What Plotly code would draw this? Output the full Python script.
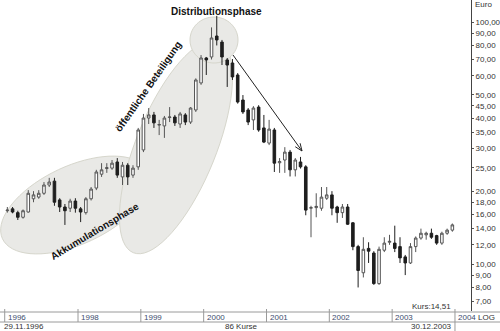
import math
import plotly.graph_objects as go

# ---------------- data (monthly candles, Nov 1996 .. Dec 2003, 86 Kurse) ----------------
opens = [16.6, 16.9, 16.3, 15.6, 16.4, 18.6, 18.9, 19.6, 21.2, 22.0,
         18.4, 17.2, 17.0, 18.2, 16.9, 16.3, 18.6, 20.6, 23.5, 24.8,
         24.9, 26.4, 22.9, 25.6, 23.3, 25.2, 29.6, 40.1, 41.3, 37.5,
         37.2, 40.3, 40.5, 37.9, 41.3, 38.6, 43.3, 56.0, 71.0, 71.7,
         87.5, 82.6, 69.7, 67.7, 60.4, 47.6, 43.3, 39.4, 44.5, 36.5,
         31.6, 35.8, 26.2, 26.9, 29.0, 24.5, 26.4, 25.2, 17.0, 17.1,
         17.0, 18.7, 19.3, 17.2, 16.3, 17.2, 14.8, 11.8, 9.2, 11.6,
         11.1, 8.3, 11.4, 12.3, 12.2, 11.8, 10.7, 10.1, 11.8, 12.8,
         13.2, 13.4, 13.1, 12.2, 13.4, 13.8]
highs = [17.2, 17.2, 16.6, 16.8, 20.2, 20.0, 20.2, 21.8, 22.7, 22.7,
         18.7, 17.7, 18.6, 18.7, 17.2, 18.9, 20.8, 24.5, 26.1, 26.1,
         26.9, 27.4, 26.4, 26.1, 25.6, 36.5, 41.7, 44.1, 42.5, 39.4,
         40.9, 44.5, 41.3, 42.5, 42.0, 44.5, 58.5, 73.0, 71.7, 95.0,
         106.0, 84.3, 71.0, 70.3, 61.5, 49.9, 44.1, 44.9, 45.3, 41.3,
         39.4, 36.5, 27.4, 30.4, 29.6, 27.4, 27.7, 25.6, 17.4, 19.6,
         20.8, 20.8, 20.0, 17.4, 17.7, 17.7, 14.9, 12.0, 12.9, 12.3,
         11.3, 11.8, 12.9, 13.2, 14.4, 12.9, 10.9, 12.2, 13.0, 14.0,
         13.6, 14.0, 13.2, 13.6, 14.0, 14.7]
lows = [16.3, 16.2, 15.2, 15.4, 16.3, 18.0, 18.6, 19.3, 20.8, 17.4,
        16.4, 14.5, 16.4, 16.3, 14.9, 16.0, 18.3, 20.2, 22.9, 23.8,
        24.5, 22.7, 21.2, 21.2, 22.7, 24.5, 29.0, 37.9, 36.5, 34.1,
        33.2, 38.6, 37.2, 36.5, 37.5, 37.9, 42.5, 55.0, 60.4, 70.0,
        80.0, 66.4, 53.9, 57.6, 46.0, 41.7, 37.5, 35.8, 35.2, 31.6,
        31.0, 24.0, 23.8, 23.8, 23.0, 23.0, 24.8, 15.9, 12.9, 15.6,
        16.6, 18.4, 15.9, 14.8, 15.5, 14.5, 11.4, 8.0, 8.8, 10.1,
        8.2, 8.2, 11.2, 12.0, 11.2, 10.1, 9.0, 10.0, 11.2, 12.6,
        12.6, 12.7, 12.0, 12.0, 13.2, 13.6]
closes = [16.7, 16.4, 15.6, 16.6, 19.6, 19.3, 19.6, 21.2, 21.8, 18.0,
          17.2, 16.6, 18.2, 17.0, 16.4, 18.6, 20.4, 24.0, 24.5, 25.0,
          26.1, 23.3, 25.6, 22.9, 24.9, 35.8, 40.1, 41.3, 38.3, 37.7,
          40.1, 40.5, 38.3, 41.7, 38.6, 44.1, 57.6, 71.0, 69.7, 85.9,
          84.3, 71.7, 66.4, 59.3, 46.7, 42.5, 38.6, 44.1, 35.8, 31.9,
          36.1, 26.1, 26.5, 29.0, 24.5, 26.9, 25.2, 16.7, 17.1, 17.3,
          18.9, 19.3, 17.0, 16.3, 17.2, 14.6, 11.8, 9.4, 11.5, 11.3,
          8.3, 11.5, 12.2, 12.4, 11.6, 10.6, 10.1, 11.8, 12.8, 13.4,
          13.4, 12.9, 12.2, 13.4, 13.8, 14.51]
months = list(range(len(closes)))          # 0 = Nov 1996 ... 85 = Dec 2003

year_labels = ["1996", "1998", "1999", "2000", "2001", "2002", "2003", "2004"]
year_pos = [-0.5, 13.5, 25.5, 37.5, 49.5, 61.5, 73.5, 85.5]

ytick_vals = [7, 8, 9, 10, 12, 14, 16, 18, 20, 25, 30, 35, 40, 45, 50, 60, 70, 80, 90, 100]
ytick_text = [f"{v:.2f}".replace(".", ",") for v in ytick_vals]

# ---------------- geometry helpers (pixel -> paper) ----------------
W, H = 500, 331
ML, MR, MT, MB = 0, 29, 0, 20
PW, PH = W - ML - MR, H - MT - MB


def px(x):
    return (x - ML) / PW


def py(y):
    return (H - MB - y) / PH


def ellipse_path(cx, cy, a, b, ang_deg, n=72):
    t = math.radians(ang_deg)
    pts = []
    for k in range(n):
        th = 2 * math.pi * k / n
        ex, ey = a * math.cos(th), b * math.sin(th)
        x = cx + ex * math.cos(t) + ey * math.sin(t)
        y = cy - ex * math.sin(t) + ey * math.cos(t)
        pts.append(f"{px(x):.5f},{py(y):.5f}")
    return "M " + " L ".join(pts) + " Z"


fig = go.Figure()
fig.add_trace(go.Candlestick(
    x=months, open=opens, high=highs, low=lows, close=closes,
    increasing=dict(line=dict(color="#555555", width=1), fillcolor="#ffffff"),
    decreasing=dict(line=dict(color="#1e1e1e", width=1), fillcolor="#1e1e1e"),
    whiskerwidth=0, showlegend=False, hoverinfo="skip"))

shapes = []
ell_style = dict(xref="paper", yref="paper", type="path", layer="below",
                 fillcolor="#e9e9e6", line=dict(color="#d6d6cc", width=1))
shapes.append(dict(path=ellipse_path(75, 205, 80, 39, 25), **ell_style))
shapes.append(dict(path=ellipse_path(176, 147, 114, 40, 68), **ell_style))
shapes.append(dict(path=ellipse_path(214, 40, 24, 23, 0), **ell_style))

# arrow
x0, y0, x1, y1 = 233, 55, 302, 151
shapes.append(dict(type="line", xref="paper", yref="paper", x0=px(x0), y0=py(y0),
                   x1=px(x1), y1=py(y1), line=dict(color="#222", width=1)))
L = math.hypot(x1 - x0, y1 - y0)
ux, uy = (x1 - x0) / L, (y1 - y0) / L
for s in (1, -1):
    an = math.radians(22 * s)
    rx = ux * math.cos(an) - uy * math.sin(an)
    ry = ux * math.sin(an) + uy * math.cos(an)
    shapes.append(dict(type="line", xref="paper", yref="paper", x0=px(x1), y0=py(y1),
                       x1=px(x1 - 8 * rx), y1=py(y1 - 8 * ry),
                       line=dict(color="#222", width=1)))

# bottom year bar
gray = "#9a9a9a"
for yy in (312, 322):
    shapes.append(dict(type="line", xref="paper", yref="paper", x0=px(0), x1=px(500),
                       y0=py(yy), y1=py(yy), line=dict(color=gray, width=1)))
for p in year_pos:
    shapes.append(dict(type="line", xref="x", yref="paper", x0=p, x1=p,
                       y0=py(309), y1=py(331 if p == year_pos[-1] else 322),
                       line=dict(color=gray, width=1)))

ann = []
small = dict(family="Liberation Sans, Arial", size=8, color="#333")
for lab, p in zip(year_labels, year_pos):
    ann.append(dict(x=p, y=py(317), xref="x", yref="paper", text=lab, showarrow=False,
                    xanchor="left", yanchor="middle", xshift=1,
                    font=dict(family="Liberation Sans, Arial", size=8, color="#3d4d6e")))
ann.append(dict(x=px(2), y=py(326), xref="paper", yref="paper", text="29.11.1996",
                showarrow=False, xanchor="left", yanchor="middle", font=small))
ann.append(dict(x=px(241), y=py(326), xref="paper", yref="paper", text="86 Kurse",
                showarrow=False, xanchor="center", yanchor="middle", font=small))
ann.append(dict(x=px(454), y=py(326), xref="paper", yref="paper", text="30.12.2003",
                showarrow=False, xanchor="right", yanchor="middle", font=small))
ann.append(dict(x=px(453), y=py(306), xref="paper", yref="paper", text="Kurs:14,51",
                showarrow=False, xanchor="right", yanchor="middle", font=small))
ann.append(dict(x=px(486), y=py(317), xref="paper", yref="paper", text="LOG",
                showarrow=False, xanchor="center", yanchor="middle", font=small))
ann.append(dict(x=px(473), y=py(5), xref="paper", yref="paper", text="Euro",
                showarrow=False, xanchor="left", yanchor="middle", font=small))

bold = dict(family="Liberation Sans, Arial", size=10, color="#111")
ann.append(dict(x=px(216), y=py(12), xref="paper", yref="paper", text="<b>Distributionsphase</b>",
                showarrow=False, xanchor="center", yanchor="middle", font=bold))
ann.append(dict(x=px(148), y=py(86), xref="paper", yref="paper", text="<b>öffentliche Beteiligung</b>",
                showarrow=False, xanchor="center", yanchor="middle", textangle=-55, font=bold))
ann.append(dict(x=px(94), y=py(231), xref="paper", yref="paper", text="<b>Akkumulationsphase</b>",
                showarrow=False, xanchor="center", yanchor="middle", textangle=-31, font=bold))

fig.update_layout(
    width=W, height=H, margin=dict(l=ML, r=MR, t=MT, b=MB),
    paper_bgcolor="white", plot_bgcolor="white",
    shapes=shapes, annotations=ann,
    xaxis=dict(range=[-1.4, 88.56], showticklabels=False, showgrid=False, zeroline=False,
               showline=False, ticks="", rangeslider=dict(visible=False), fixedrange=True),
    yaxis=dict(type="log", side="right", range=[0.8058, 2.0909], tickvals=ytick_vals,
               ticktext=ytick_text, showgrid=False, zeroline=False, showline=True,
               linecolor="#444", linewidth=1, ticks="outside", ticklen=2, tickcolor="#555",
               tickfont=dict(family="Liberation Sans, Arial", size=8, color="#333"),
               fixedrange=True),
)
fig.write_html("out.html")
